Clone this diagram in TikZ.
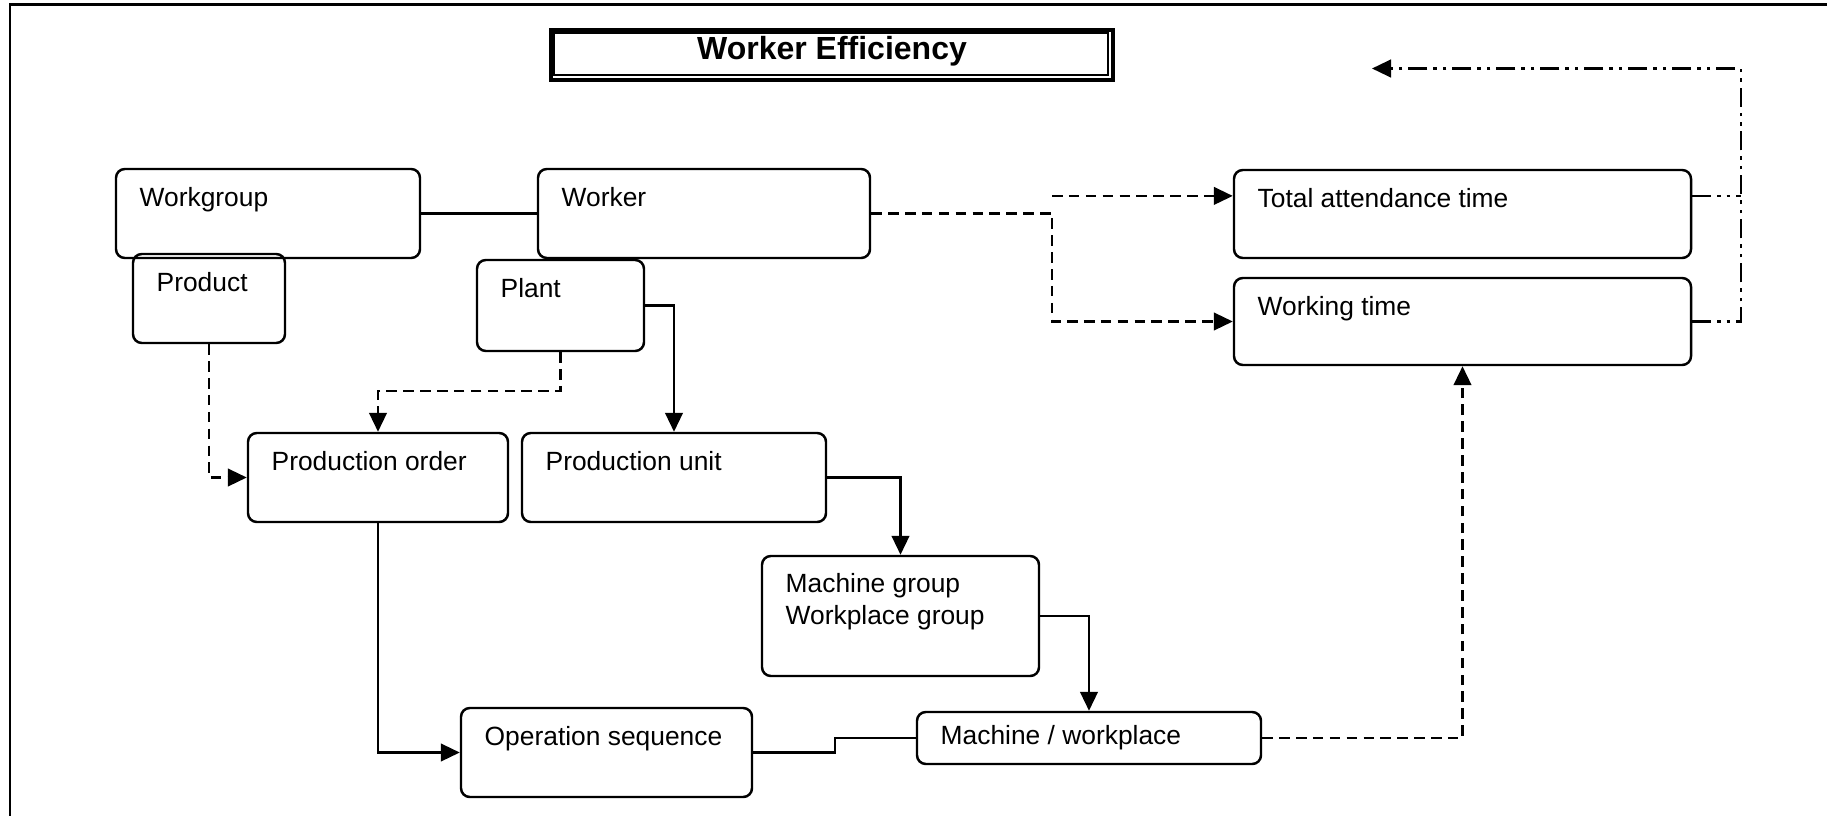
\documentclass[tikz,border=0pt]{standalone}
\usepackage{fontspec}
\setmainfont{Liberation Sans}
\usepackage{tikz}
\usetikzlibrary{arrows.meta}
\usetikzlibrary{calc}
\usetikzlibrary{fit}
\tikzset{
	blk/.style={draw, rounded corners=2.5pt, line width=0.7pt, inner sep=0pt},
	lbl/.style={font=\fontsize{7.5}{9.1}\selectfont, inner sep=0pt, align=left},
	con/.style={line width=0.7pt},
	dcon/.style={line width=0.7pt, dash pattern=on 3pt off 1.8pt},
	ddcon/.style={line width=0.7pt, dash pattern=on 5.4pt off 1.7pt on 1pt off 1.7pt on 1pt off 1.7pt},
	arr/.style={-{Triangle[length=5.4pt,width=5pt]}}
}
\newcommand{\blk}[7][37]{
	\node[blk, fit={(#3,#4) (#5,#6)}] (#2) {};
	\node[lbl, anchor=base west] (#2-t) at ($(#3,#4)+(23,#1)$) {#7};
	}

\begin{document}
\begin{tikzpicture}[x=0.01cm, y=-0.01cm]

	\clip (0,0) rectangle (1827,815);
	% frame and title
	\draw[line width=0.85pt] (10,4.5) rectangle (1900,900);
	\node[fit={(551,30) (1113,80)}, inner sep=0pt, draw, line width=1.1pt] (ttl) {};
	\draw[line width=0.7pt] ($(ttl.north west)+(5,5)$) rectangle ($(ttl.south east)+(-7,-7)$);
	\node[font=\bfseries\fontsize{9.1}{11}\selectfont, anchor=base] (ttl-t) at (832,60) {Worker Efficiency};

	% boxes
	\blk{wgrp}{116}{169}{420}{258}{Workgroup}
	\blk{wrk}{538}{169}{870}{258}{Worker}
	\blk{prod}{133}{254}{285}{343}{Product}
	\blk{plant}{477}{260}{644}{351}{Plant}
	\blk{pord}{248}{433}{508}{522}{Production order}
	\blk{punit}{522}{433}{826}{522}{Production unit}
	\blk[68]{mgrp}{762}{556}{1039}{676}{Machine group\\Workplace group}
	\blk{opseq}{461}{708}{752}{797}{Operation sequence}
	\blk[32]{mwp}{917}{712}{1261}{764}{Machine / workplace}
	\blk{tatt}{1234}{170}{1691}{258}{Total attendance time}
	\blk{wtime}{1234}{278}{1691}{365}{Working time}

	\coordinate (sp) at (1052,196);
	\coordinate (ta-in) at ($(tatt.north west)!0.3!(tatt.south west)$);
	\coordinate (rt) at (1741,68.5);
	\coordinate (back) at (1372,68.5);

	% links
	\draw[con] (wgrp.east) -- (wrk.west);
	\draw[dcon, arr] (wrk.east) -| (sp |- wtime.west) -- (wtime.west);
	\draw[dcon, arr] (sp |- ta-in) -- (ta-in);
	\draw[ddcon] (ta-in -| tatt.east) -- (ta-in -| rt);
	\draw[ddcon, arr] (wtime.east) -| (rt) -- (back);
	\draw[dcon, arr] (prod.south) |- (pord.west);
	\draw[dcon, arr] (plant.south) -- ++(0,39) -| (pord.north);
	\draw[con, arr] (plant.east) -| (punit.north);
	\draw[con, arr] (punit.east) -| (mgrp.north);
	\draw[con, arr] (mgrp.east) -| (mwp.north);
	\draw[con, arr] (pord.south) |- (opseq.west);
	\draw[con] (opseq.east) -- ++(82,0) |- (mwp.west);
	\draw[dcon, arr] (mwp.east) -| (wtime.south);

\end{tikzpicture}
\end{document}
